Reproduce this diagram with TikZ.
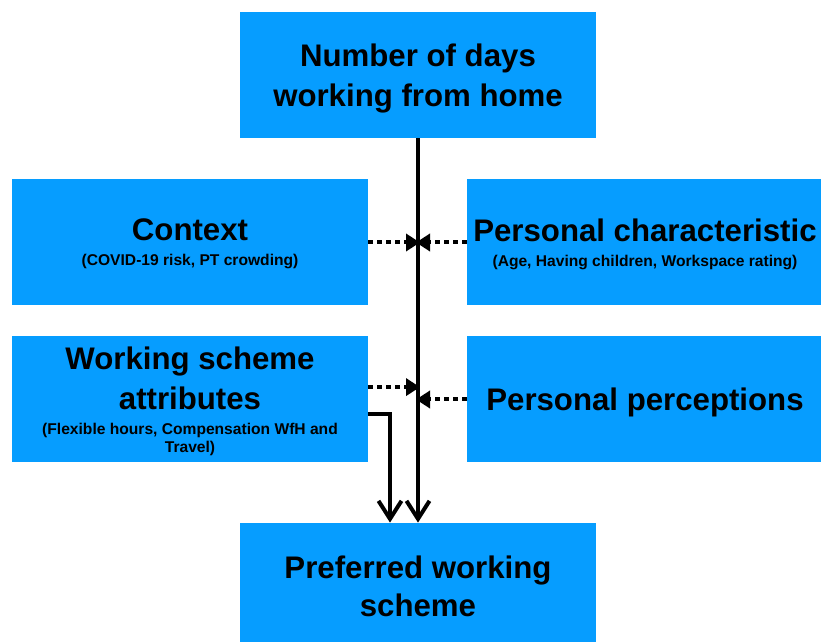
\documentclass[tikz,border=0pt]{standalone}
\usepackage{fontspec}
\setmainfont{Liberation Sans}
\usetikzlibrary{arrows.meta}

\definecolor{boxblue}{HTML}{069DFF}
\newcommand{\headfont}{\bfseries\fontsize{15.6pt}{20pt}\selectfont}
\newcommand{\notefont}{\bfseries\fontsize{7.8pt}{9pt}\selectfont}

\tikzset{
    factor/.style={rectangle, fill=boxblue, minimum width=178pt, minimum height=63pt,
        inner sep=0pt, align=center, font=\headfont, text depth=0pt},
    mainarrow/.style={line width=2pt, -{Straight Barb[length=9pt,width=11.5pt]}},
    dotarrow/.style={line width=2pt, dash pattern=on 2.5pt off 2pt,
        -{Triangle[length=7pt,width=8.5pt]}, shorten >=-1pt}
}

\begin{document}
\begin{tikzpicture}[x=0.5pt, y=-0.5pt]

        \useasboundingbox (0,0) rectangle (821,642);

        \node[factor] (days) at (418,75) {Number of days\\working from home};
        \node[factor] (context) at (190,242.5) {Context\\[-7.5pt]{\notefont (COVID-19 risk, PT crowding)}};
        \node[factor] (personal) at (645,242.5) {Personal characteristic\\[-7.5pt]{\notefont (Age, Having children, Workspace rating)}};
        \node[factor] (attributes) at (190,399.5) {Working scheme\\attributes\\[-7.5pt]{\notefont (Flexible hours, Compensation WfH and}\\[-11pt]{\notefont Travel)}};
        \node[factor] (perceptions) at (645,399.5) {Personal perceptions};
        \node[factor] (preferred) at (418,586) {Preferred working\\[-1pt]scheme};

        % main effect and direct effect of the attributes
        \draw[mainarrow] (days.south) -- (preferred.north);
        \draw[mainarrow] ([yshift=-7.2pt]attributes.east) -| ([xshift=-14pt]preferred.north);

        % moderating factors
        \draw[dotarrow] (context.east) -- (context.east -| days.south);
        \draw[dotarrow] (personal.west) -- (personal.west -| days.south);
        \draw[dotarrow] ([yshift=6.2pt]attributes.east) -- ([yshift=6.2pt]attributes.east -| days.south);
        \draw[dotarrow] (perceptions.west) -- (perceptions.west -| days.south);
    \end{tikzpicture}
\end{document}
